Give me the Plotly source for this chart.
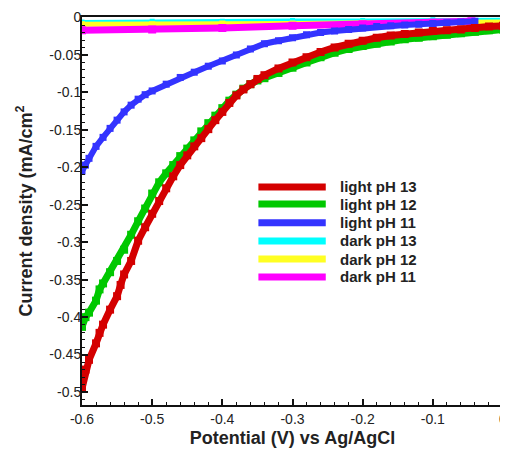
import plotly.graph_objects as go

# ---- data ----
x_red = [-0.600, -0.595, -0.59, -0.58, -0.575, -0.57, -0.56, -0.55, -0.545, -0.54, -0.53, -0.52, -0.51, -0.50,
         -0.49, -0.48, -0.47, -0.46, -0.45, -0.44, -0.43, -0.42, -0.41, -0.40, -0.39, -0.38, -0.37, -0.36,
         -0.35, -0.34, -0.32, -0.30, -0.28, -0.26, -0.24, -0.22, -0.20, -0.18, -0.16, -0.14, -0.12, -0.10,
         -0.08, -0.06, -0.04, -0.02, 0.00]
y_red = [-0.495, -0.470, -0.457, -0.435, -0.421, -0.410, -0.390, -0.372, -0.357, -0.343, -0.325, -0.298, -0.280,
         -0.262, -0.245, -0.228, -0.212, -0.197, -0.184, -0.172, -0.161, -0.149, -0.137, -0.126, -0.114, -0.104,
         -0.096, -0.089, -0.082, -0.077, -0.068, -0.060, -0.053, -0.046, -0.040, -0.035, -0.031, -0.027, -0.024,
         -0.022, -0.020, -0.018, -0.017, -0.016, -0.014, -0.012, -0.011]

x_green = [-0.600, -0.595, -0.59, -0.58, -0.575, -0.57, -0.56, -0.55, -0.54, -0.53, -0.52, -0.51, -0.50,
           -0.49, -0.48, -0.47, -0.46, -0.45, -0.44, -0.43, -0.42, -0.41, -0.40, -0.39, -0.38, -0.37, -0.36,
           -0.35, -0.34, -0.32, -0.30, -0.28, -0.26, -0.24, -0.22, -0.20, -0.18, -0.16, -0.14, -0.12, -0.10,
           -0.08, -0.06, -0.04, -0.02, 0.00]
y_green = [-0.413, -0.400, -0.394, -0.378, -0.363, -0.355, -0.340, -0.325, -0.310, -0.290, -0.272, -0.255,
           -0.235, -0.220, -0.208, -0.197, -0.185, -0.175, -0.164, -0.152, -0.141, -0.131, -0.121, -0.111,
           -0.103, -0.095, -0.089, -0.084, -0.081, -0.074, -0.067, -0.060, -0.053, -0.047, -0.042, -0.038,
           -0.035, -0.032, -0.029, -0.027, -0.025, -0.023, -0.021, -0.019, -0.017, -0.016]

x_blue = [-0.600, -0.595, -0.59, -0.58, -0.57, -0.56, -0.55, -0.54, -0.53, -0.52, -0.51, -0.50, -0.48, -0.46,
          -0.44, -0.42, -0.40, -0.38, -0.36, -0.34, -0.32, -0.30, -0.28, -0.26, -0.24, -0.22, -0.20, -0.18,
          -0.16, -0.14, -0.12, -0.10, -0.08, -0.06, -0.04]
y_blue = [-0.205, -0.197, -0.188, -0.172, -0.160, -0.148, -0.137, -0.126, -0.117, -0.109, -0.103, -0.098,
          -0.089, -0.080, -0.073, -0.065, -0.058, -0.050, -0.042, -0.035, -0.031, -0.027, -0.023, -0.020,
          -0.018, -0.016, -0.014, -0.012, -0.011, -0.010, -0.009, -0.008, -0.007, -0.006, -0.005]

x_cyan = [-0.60, -0.50, -0.40, -0.30, -0.20, -0.10, 0.00]
y_cyan = [-0.006, -0.005, -0.005, -0.004, -0.004, -0.003, -0.003]

x_yellow = [-0.60, -0.50, -0.40, -0.30, -0.20, -0.10, -0.05, 0.00]
y_yellow = [-0.009, -0.009, -0.008, -0.008, -0.007, -0.007, -0.006, -0.006]

x_magenta = [-0.60, -0.50, -0.40, -0.30, -0.20, -0.10, -0.045]
y_magenta = [-0.017, -0.016, -0.014, -0.011, -0.009, -0.007, -0.005]

names = ["light pH 13", "light pH 12", "light pH 11", "dark pH 13", "dark pH 12", "dark pH 11"]
colors = ["#d40000", "#00c800", "#3333ff", "#00ffff", "#ffff22", "#ff00ff"]

x_ticks = [-0.6, -0.5, -0.4, -0.3, -0.2, -0.1, 0]
x_tick_text = ["-0.6", "-0.5", "-0.4", "-0.3", "-0.2", "-0.1", "0"]
y_ticks = [0, -0.05, -0.1, -0.15, -0.2, -0.25, -0.3, -0.35, -0.4, -0.45, -0.5]
y_tick_text = ["0", "-0.05", "-0.1", "-0.15", "-0.2", "-0.25", "-0.3", "-0.35", "-0.4", "-0.45", "-0.5"]

series = {
    "light pH 13": (x_red, y_red),
    "light pH 12": (x_green, y_green),
    "light pH 11": (x_blue, y_blue),
    "dark pH 13": (x_cyan, y_cyan),
    "dark pH 12": (x_yellow, y_yellow),
    "dark pH 11": (x_magenta, y_magenta),
}
widths = {"light pH 13": 7, "light pH 12": 7, "light pH 11": 6,
          "dark pH 13": 4, "dark pH 12": 5, "dark pH 11": 7}

fig = go.Figure()
draw_order = ["dark pH 13", "dark pH 12", "dark pH 11", "light pH 11", "light pH 12", "light pH 13"]
for nm in draw_order:
    xs, ys = series[nm]
    c = colors[names.index(nm)]
    fig.add_trace(go.Scatter(
        x=xs, y=ys, name=nm, mode="lines+markers",
        line=dict(color=c, width=widths[nm]),
        marker=dict(symbol="square", size=widths[nm] + 1, color=c),
        showlegend=False, cliponaxis=True,
    ))

# manual legend (long line samples as in the reference)
leg_y = [0.562, 0.518, 0.470, 0.423, 0.376, 0.330]
for nm, c, yy in zip(names, colors, leg_y):
    fig.add_shape(type="line", xref="paper", yref="paper", x0=0.419, x1=0.579, y0=yy, y1=yy,
                  line=dict(color=c, width=7))
    fig.add_annotation(xref="paper", yref="paper", x=0.607, y=yy, text=nm, showarrow=False,
                       xanchor="left", yanchor="middle",
                       font=dict(family="Liberation Sans, Arial", size=15, color="#222222", weight="bold"))

axis_common = dict(
    showgrid=False, zeroline=False, showline=True, linecolor="#111111", linewidth=2, mirror=True,
    ticks="inside", ticklen=6, tickwidth=1.5, tickcolor="#111111",
    tickfont=dict(family="Liberation Sans, Arial", size=14, color="#222222"),
    ticklabeloverflow="allow",
)

fig.update_xaxes(
    range=[-0.6, 0], tickvals=x_ticks, ticktext=x_tick_text,
    minor=dict(ticks="inside", ticklen=3, dtick=0.02, tickcolor="#111111", tickwidth=1),
    title=dict(text="Potential (V) vs Ag/AgCl", standoff=6,
               font=dict(family="Liberation Sans, Arial", size=18, color="#222222", weight="bold")),
    **axis_common,
)
fig.update_yaxes(
    range=[-0.5173, 0.0007], tickvals=y_ticks, ticktext=y_tick_text,
    ticklabelstandoff=-4,
    minor=dict(ticks="inside", ticklen=3, dtick=0.01, tickcolor="#111111", tickwidth=1),
    title=dict(text="Current density (mA/cm<sup>2</sup>", standoff=12,
               font=dict(family="Liberation Sans, Arial", size=18, color="#222222", weight="bold")),
    **axis_common,
)

# page body has an 8px margin, so the figure is sized/margined to land on the reference pixels
fig.update_layout(
    width=500, height=444,
    margin=dict(l=74, r=1, t=9, b=47),
    plot_bgcolor="white", paper_bgcolor="white",
    showlegend=False,
)

fig.write_html("out.html")
